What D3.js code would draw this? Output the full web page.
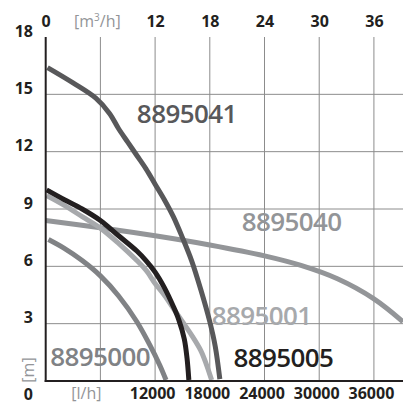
<!DOCTYPE html>
<html><head><meta charset="utf-8">
<script src="https://cdn.jsdelivr.net/npm/d3@7"></script>
<style>body{margin:0;background:#fff}svg{display:block}</style>
</head><body>
<svg id="c" width="403" height="403"></svg>
<script>
// X in m³/h, Y in m
const topTicks = [0, 12, 18, 24, 30, 36];
const bottomTicks = [12, 18, 24, 30, 36];
const yTicks = [0, 3, 6, 9, 12, 15, 18];
const gridX = [6, 12, 18, 24, 30, 36];
const gridY = [3, 6, 9, 12, 15];

const s8895041 = [[0.2,16.4],[3,15.6],[5.5,14.8],[7,14.0],[8,13.2],[9,12.5],[10,11.8],[11,11.1],[12,10.3],[13,9.5],[14,8.6],[15,7.5],[16,6.3],[17,4.8],[18,3.1],[18.6,1.8],[19.1,0.1]];
const s8895005 = [[0.1,10.0],[2,9.5],[4,9.0],[6,8.4],[8,7.6],[10,6.8],[11,6.3],[12,5.7],[13,4.9],[14,3.9],[14.6,3.2],[15.2,2.2],[15.5,1.2],[15.7,0.05]];
const s8895001 = [[0.1,9.7],[2,9.2],[4,8.6],[6,8.0],[8,7.2],[10,6.3],[11,5.8],[12,5.1],[13,4.5],[14,3.8],[15,3.1],[16,2.4],[17,1.6],[17.6,0.9],[18.2,0.05]];
const s8895040 = [[0,8.4],[6,8.02],[12,7.6],[18,7.12],[24,6.55],[28,6.05],[32,5.35],[36,4.3],[39.2,3.1]];
const s8895000 = [[0.3,7.4],[2,6.95],[4,6.3],[6,5.5],[8,4.45],[10,3.1],[11.4,1.9],[12.5,0.84],[13.2,0.05]];

const seriesNames = ["8895040","8895000","8895001","8895005","8895041"];
const seriesData = [s8895040, s8895000, s8895001, s8895005, s8895041];
const seriesColors = ["#939598","#808285","#a7a9ac","#231f20","#58585a"];
const labelColors = ["#939598","#808285","#a7a9ac","#231f20","#58585a"];

const svg = d3.select("#c");
const x = d3.scaleLinear().domain([0, 39.19]).range([45.7, 403]);
const y = d3.scaleLinear().domain([0, 18]).range([381, 37]);
const font = "'Open Sans', sans-serif";

// grid
svg.append("g").selectAll("line").data(gridX).join("line")
  .attr("x1", d => x(d)).attr("x2", d => x(d))
  .attr("y1", y(18)).attr("y2", y(0))
  .attr("stroke", "#8c8c8c").attr("stroke-width", 1);
svg.append("g").selectAll("line").data(gridY).join("line")
  .attr("x1", x(0)).attr("x2", 403)
  .attr("y1", d => y(d)).attr("y2", d => y(d))
  .attr("stroke", "#8c8c8c").attr("stroke-width", 1);

// curves
const line = d3.line().x(d => x(d[0])).y(d => y(d[1])).curve(d3.curveCatmullRom.alpha(0.5));
svg.append("g").selectAll("path").data(seriesData).join("path")
  .attr("d", d => line(d))
  .attr("fill", "none")
  .attr("stroke", (d, i) => seriesColors[i])
  .attr("stroke-width", 5);

// axes lines
svg.append("line").attr("x1", x(0)).attr("x2", x(0)).attr("y1", y(18)).attr("y2", y(0) + 1)
  .attr("stroke", "#231f20").attr("stroke-width", 2);
svg.append("line").attr("x1", x(0) - 1).attr("x2", 403).attr("y1", y(0)).attr("y2", y(0))
  .attr("stroke", "#231f20").attr("stroke-width", 2);

// series labels (anchor in data units)
const lblPts = [[21.5,7.85],[0.5,0.78],[18.2,2.95],[20.6,0.75],[10.0,13.5]];
svg.append("g").selectAll("text").data(seriesNames).join("text")
  .attr("x", (d, i) => x(lblPts[i][0]))
  .attr("y", (d, i) => y(lblPts[i][1]))
  .attr("fill", (d, i) => labelColors[i])
  .attr("font-family", font).attr("font-weight", 600).attr("font-size", 26)
  .attr("letter-spacing", -0.6)
  .text(d => d);

// top axis
const topAxis = d3.axisTop(x).tickValues(topTicks).tickSize(0).tickPadding(0).tickFormat(d3.format("d"));
const gTop = svg.append("g").attr("transform", "translate(0,27)").call(topAxis);
gTop.select(".domain").remove();
gTop.selectAll("text").attr("font-family", font).attr("font-weight", 700).attr("font-size", 16).attr("fill", "#231f20").attr("dy", 0);
svg.append("text").attr("x", x(6) - 3).attr("y", 27).attr("text-anchor", "middle")
  .attr("font-family", font).attr("font-size", 16).attr("fill", "#939598")
  .html("[m<tspan dy='-6' font-size='10'>3</tspan><tspan dy='6'>/h]</tspan>");

// bottom axis
const botAxis = d3.axisBottom(x).tickValues(bottomTicks).tickSize(0).tickPadding(0).tickFormat(d => d * 1000);
const gBot = svg.append("g").attr("transform", "translate(-3,399)").call(botAxis);
gBot.select(".domain").remove();
gBot.selectAll("text").attr("font-family", font).attr("font-weight", 700).attr("font-size", 16).attr("fill", "#231f20").attr("dy", 0);
svg.append("text").attr("x", x(6) - 14).attr("y", 399).attr("text-anchor", "middle")
  .attr("font-family", font).attr("font-size", 16).attr("fill", "#939598").text("[l/h]");

// left axis
const leftAxis = d3.axisLeft(y).tickValues(yTicks).tickSize(0).tickPadding(0).tickFormat(d3.format("d"));
const gLeft = svg.append("g").attr("transform", "translate(33,0)").call(leftAxis);
gLeft.select(".domain").remove();
gLeft.selectAll("text").attr("font-family", font).attr("font-weight", 700).attr("font-size", 16).attr("fill", "#231f20")
  .attr("dy", d => d === 0 ? 18 : -1);
svg.append("text").attr("transform", "translate(34,370) rotate(-90)").attr("text-anchor", "middle")
  .attr("font-family", font).attr("font-size", 16).attr("fill", "#939598").text("[m]");
</script>
</body></html>
